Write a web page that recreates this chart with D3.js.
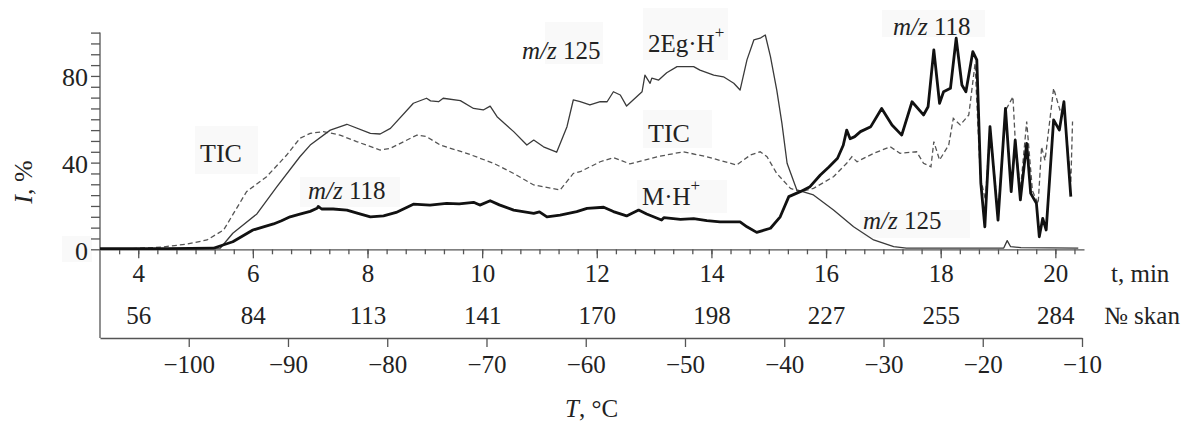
<!DOCTYPE html>
<html>
<head>
<meta charset="utf-8">
<script src="https://cdn.jsdelivr.net/npm/d3@7"></script>
<style>
    body { margin: 0; background: #fff; }
    svg text { font-family: "Liberation Serif", "DejaVu Serif", "Times New Roman", Times, serif !important; fill: #222; }
</style>
</head>
<body>
<div id="chart"></div>
<script>
const WIDTH = 1187, HEIGHT = 421;

// tick labels
const timeTicks = [4, 6, 8, 10, 12, 14, 16, 18, 20];
const scanLabels = [56, 84, 113, 141, 170, 198, 227, 255, 284];
const tempTicks = [-100, -90, -80, -70, -60, -50, -40, -30, -20, -10];
const yLabelled = [0, 40, 80];

// [t, min ; I, %]
const ticSeries = [[3.333,0.2],[3.9,0.3],[4.4,1],[4.85,2.4],[5.2,4.3],[5.49,8.9],[5.89,26.6],[6.24,33.5],[6.59,43.5],[6.82,51.2],[7.0,53.5],[7.23,54.3],[7.52,52.7],[7.81,49.7],[8.22,45.8],[8.4,46.6],[8.86,52.7],[9.03,52],[9.27,48.1],[9.73,44.3],[10.2,39.7],[10.55,35],[10.9,29.7],[11.36,27.4],[11.59,35],[11.71,35.8],[12.06,40.4],[12.29,42.3],[12.58,39.4],[13.05,42.7],[13.51,45],[13.92,42.7],[14.44,38.9],[14.68,43.5],[14.85,45],[14.97,42.7],[15.14,35],[15.38,28.1],[15.55,26.6],[15.78,28.1],[16.13,33.5],[16.36,39.7],[16.45,42.7],[16.54,40.4],[16.83,44.3],[17.12,47.3],[17.29,44.3],[17.58,45],[17.7,39.7],[17.83,38.1],[17.88,49.7],[17.98,41.2],[18.14,48.1],[18.22,60.4],[18.34,57.4],[18.49,62],[18.6,85.8],[18.69,33.5],[18.78,22.8],[18.86,56.6],[19.0,16.6],[19.13,64],[19.26,70.4],[19.3,50.4],[19.39,27],[19.5,59],[19.6,27],[19.7,21],[19.76,47.3],[19.82,41],[19.97,74.3],[20.08,64.3],[20.15,65.8],[20.27,30.5],[20.3,59]];

const mz125Series = [[3.333,0.3],[5.0,0.3],[5.43,0.5],[5.65,7.4],[6.07,16.3],[6.42,28.9],[6.82,42.7],[7.0,48.1],[7.35,55],[7.64,57.7],[8.05,53.5],[8.22,53.2],[8.4,55.8],[8.8,67.4],[9.03,69.7],[9.1,68.5],[9.24,68.1],[9.32,69.7],[9.62,68.6],[9.85,65],[10.02,64.3],[10.14,66.1],[10.26,61.2],[10.55,54.3],[10.78,48.1],[10.9,50.4],[11.07,47.3],[11.3,44.8],[11.48,56.6],[11.59,68.9],[11.71,68.1],[11.88,66.6],[12.06,68.1],[12.18,68.1],[12.29,72.7],[12.41,71.2],[12.52,66.1],[12.79,72.7],[12.84,80.4],[12.93,76.6],[12.96,79],[13.08,78.1],[13.22,81.5],[13.4,84.3],[13.69,84.3],[13.8,82.7],[14.04,80.4],[14.21,79.6],[14.39,76.6],[14.5,73.5],[14.62,87.4],[14.74,96.6],[14.85,97.4],[14.94,98.9],[15.03,88.9],[15.14,73.5],[15.23,58.1],[15.32,39.7],[15.49,27.4],[15.78,25.1],[16.13,18.1],[16.48,10.4],[16.83,4.3],[17.18,1.2],[17.4,0.5],[19.1,0.6],[19.16,4],[19.22,1.2],[19.4,0.8],[20.4,0.5]];

const mz118Series = [[3.333,0.3],[4.5,0.3],[5.31,0.5],[5.65,3.5],[6.0,8.9],[6.2,10.5],[6.36,11.7],[6.5,13.2],[6.65,15],[6.82,16.2],[7.0,17.5],[7.12,18.9],[7.14,19.8],[7.2,18.6],[7.4,18.6],[7.64,18.1],[7.85,16.5],[8.05,15],[8.28,15.4],[8.5,17],[8.8,20.8],[9.09,20.4],[9.38,21.2],[9.6,21],[9.85,21.7],[9.96,20.4],[10.14,22.4],[10.3,20.5],[10.55,18.1],[10.9,16.6],[11.0,17.3],[11.13,15],[11.36,15.8],[11.65,17.4],[11.83,18.9],[12.12,19.4],[12.29,17.4],[12.52,15.4],[12.73,18.1],[12.87,16.3],[13.13,13.5],[13.17,14.6],[13.46,13.8],[13.69,14.2],[13.92,13.2],[14.15,12.7],[14.5,12.7],[14.62,10.4],[14.79,7.8],[15.03,9.7],[15.2,15],[15.35,24.3],[15.55,26.6],[15.72,28.9],[15.9,34.3],[16.05,38],[16.2,42],[16.3,48],[16.36,55],[16.42,51],[16.5,52],[16.6,54.3],[16.78,56.6],[16.97,65],[17.15,57.4],[17.32,52.7],[17.5,68.1],[17.7,62],[17.78,65.8],[17.88,92],[17.98,67.4],[18.05,72.7],[18.17,74.3],[18.27,97.4],[18.37,75.8],[18.44,72.7],[18.56,91.2],[18.63,87.4],[18.7,30.5],[18.77,10.4],[18.86,56.6],[19.0,13.5],[19.13,65],[19.23,26.6],[19.3,50.4],[19.39,22.8],[19.5,48.9],[19.57,25.8],[19.67,21.2],[19.72,5.8],[19.78,14.3],[19.84,8.9],[19.97,59.7],[20.07,55],[20.15,68.1],[20.27,24.3]];

const X0 = 100, X1 = 1084, Y0 = 249.3, Y100 = 32.6, FRAME_BOTTOM = 338;
const AXIS_COLOR = "#555";

const svg = d3.select("#chart").append("svg")
    .attr("width", WIDTH)
    .attr("height", HEIGHT)
    .attr("font-family", "Liberation Serif");

const x = d3.scaleLinear().domain([3.333, 20.5]).range([X0, X1]);
const y = d3.scaleLinear().domain([0, 100]).range([Y0, Y100]);
const temp = d3.scaleLinear().domain([-108.94, -10]).range([X0, 1082]);

// faint boxes behind the labels (scan artefacts in the original)
const boxes = [[195,126,63,48],[300,177,100,30],[545,22,58,42],[643,8,85,52],[643,110,69,38],[637,180,90,33],[882,10,103,27],[860,210,110,28],[62,236,30,26]];
svg.selectAll("rect.bg")
    .data(boxes)
    .join("rect")
    .attr("class", "bg")
    .attr("x", d => d[0]).attr("y", d => d[1])
    .attr("width", d => d[2]).attr("height", d => d[3])
    .attr("fill", "#f9f9f9");

function styleAxis(sel) {
    sel.attr("font-family", null);
    sel.selectAll("path, line").attr("stroke", AXIS_COLOR).attr("stroke-width", 1.3);
    sel.selectAll("text").attr("fill", "#222");
}

// y axis
const yAxis = svg.append("g")
    .attr("transform", `translate(${X0},0)`)
    .call(d3.axisLeft(y)
        .tickValues(d3.range(0, 101, 5))
        .tickSize(9)
        .tickSizeOuter(0)
        .tickPadding(3)
        .tickFormat(d => yLabelled.includes(d) ? d : ""));
yAxis.select(".domain").remove();
yAxis.selectAll("text").attr("font-size", 26).attr("dy", "0.38em");
styleAxis(yAxis);

// frame: left vertical line down to the temperature axis
svg.append("line")
    .attr("x1", X0).attr("x2", X0)
    .attr("y1", y(100)).attr("y2", FRAME_BOTTOM)
    .attr("stroke", AXIS_COLOR).attr("stroke-width", 1.3);

// time axis, minor ticks
const minor = svg.append("g")
    .attr("transform", `translate(0,${Y0})`)
    .call(d3.axisBottom(x)
        .tickValues(d3.range(11, 62).map(i => i / 3))
        .tickSize(5)
        .tickSizeOuter(0)
        .tickFormat(""));
styleAxis(minor);

// time axis, labelled ticks
const tAxis = svg.append("g")
    .attr("transform", `translate(0,${Y0})`)
    .call(d3.axisBottom(x)
        .tickValues(timeTicks)
        .tickSize(9)
        .tickSizeOuter(0)
        .tickPadding(6));
tAxis.select(".domain").remove();
tAxis.selectAll("text").attr("font-size", 25);
styleAxis(tAxis);

// scan number row
const sAxis = svg.append("g")
    .attr("transform", `translate(0,${Y0})`)
    .call(d3.axisBottom(x)
        .tickValues(timeTicks)
        .tickSize(0)
        .tickPadding(57)
        .tickFormat((d, i) => scanLabels[i]));
sAxis.select(".domain").remove();
sAxis.selectAll("text").attr("font-size", 25);
styleAxis(sAxis);

// temperature axis
const TAxis = svg.append("g")
    .attr("transform", `translate(0,${FRAME_BOTTOM})`)
    .call(d3.axisBottom(temp)
        .tickValues(tempTicks)
        .tickSize(9)
        .tickSizeOuter(0)
        .tickPadding(8)
        .tickFormat(d => "\u2212" + Math.abs(d)));
TAxis.selectAll("text").attr("font-size", 25);
styleAxis(TAxis);

// curves
const line = d3.line().x(d => x(d[0])).y(d => y(d[1]));

svg.append("path").datum(ticSeries)
    .attr("d", line).attr("fill", "none")
    .attr("stroke", "#555").attr("stroke-width", 1.3)
    .attr("stroke-dasharray", "5,3");

svg.append("path").datum(mz125Series)
    .attr("d", line).attr("fill", "none")
    .attr("stroke", "#3a3a3a").attr("stroke-width", 1.3)
    .attr("stroke-linejoin", "round");

svg.append("path").datum(mz118Series)
    .attr("d", line).attr("fill", "none")
    .attr("stroke", "#111").attr("stroke-width", 2.8)
    .attr("stroke-linejoin", "round");

// axis titles
const yTitle = svg.append("text")
    .attr("transform", "translate(32,182) rotate(-90)")
    .attr("text-anchor", "middle")
    .attr("font-size", 26);
yTitle.append("tspan").attr("font-style", "italic").text("I");
yTitle.append("tspan").text(", %");

svg.append("text").attr("x", 1111).attr("y", 282).attr("font-size", 25).text("t, min");
svg.append("text").attr("x", 1104).attr("y", 324).attr("font-size", 25).text("\u2116 skan");

const tTitle = svg.append("text").attr("x", 565).attr("y", 417).attr("font-size", 25);
tTitle.append("tspan").attr("font-style", "italic").text("T");
tTitle.append("tspan").text(", \u00B0C");

// annotations
function mzLabel(px, py, num) {
    const t = svg.append("text").attr("x", px).attr("y", py).attr("font-size", 25);
    t.append("tspan").attr("font-style", "italic").text("m/z");
    t.append("tspan").text(" " + num);
}
mzLabel(308, 199, "118");
mzLabel(522, 59, "125");
mzLabel(863, 229, "125");
mzLabel(893, 35, "118");

svg.append("text").attr("x", 200).attr("y", 162).attr("font-size", 26).text("TIC");
svg.append("text").attr("x", 648).attr("y", 142).attr("font-size", 26).text("TIC");

function ionLabel(px, py, base) {
    const t = svg.append("text").attr("x", px).attr("y", py).attr("font-size", 25);
    t.append("tspan").text(base);
    t.append("tspan").attr("font-size", 17).attr("dy", -14).text("+");
}
ionLabel(648, 52, "2Eg\u00B7H");
ionLabel(642, 205, "M\u00B7H");
</script>
</body>
</html>
